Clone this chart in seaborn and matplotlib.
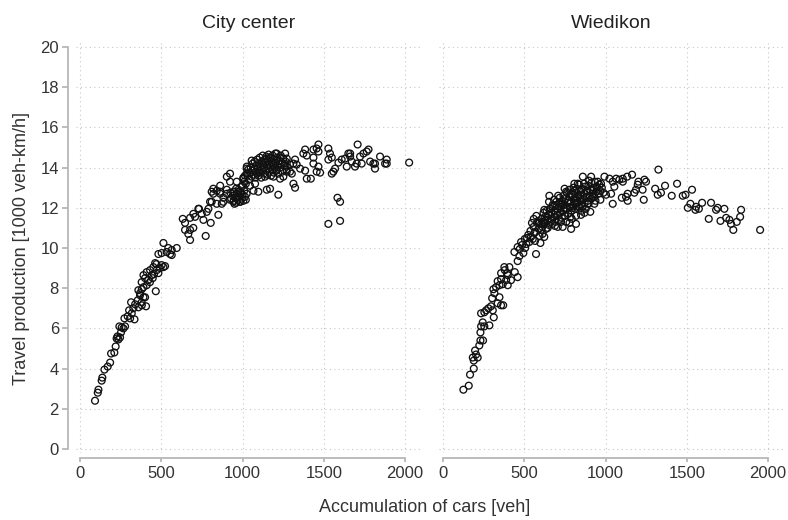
import matplotlib
matplotlib.use("Agg")
import matplotlib.pyplot as plt
import seaborn as sns
import pandas as pd

panels = ["City center", "Wiedikon"]
x_ticks = [0, 500, 1000, 1500, 2000]
y_ticks = [0, 2, 4, 6, 8, 10, 12, 14, 16, 18, 20]

city_points = [
    (92, 2.4), (109, 2.8), (113, 2.95), (133, 3.4), (137, 3.55), (150, 3.95), (170, 4.1),
    (185, 4.3), (191, 4.75), (211, 4.8), (219, 5.1), (225, 5.5), (230, 5.6), (236, 5.45),
    (242, 6.1), (246, 5.55), (252, 5.8), (256, 6.05), (267, 6.0), (273, 6.5), (277, 6.1),
    (293, 6.6), (302, 6.9), (308, 6.5), (314, 7.3), (318, 6.75), (328, 7.0), (335, 6.45),
    (339, 7.2), (355, 7.4), (359, 7.05), (369, 7.65), (380, 7.15), (390, 7.55), (359, 7.9),
    (380, 7.95), (406, 7.1), (466, 7.85), (369, 7.75), (400, 7.55), (379, 7.3),
    (379, 8.3), (400, 8.5), (420, 8.4), (390, 8.65), (410, 8.8), (431, 8.9), (441, 8.65),
    (451, 9.05), (462, 9.25), (472, 8.9), (482, 8.75), (492, 9.0), (502, 9.15), (513, 9.05),
    (523, 9.1), (447, 8.5), (410, 8.15), (390, 8.05), (430, 8.3), (455, 8.7), (470, 9.2),
    (482, 9.7), (502, 9.75), (513, 10.25), (533, 9.8), (543, 10.0), (554, 9.7), (564, 9.9),
    (595, 10.0), (564, 9.65),
    (632, 11.45), (646, 11.25), (677, 11.5), (708, 11.55), (697, 11.7), (732, 11.95),
    (749, 11.7), (759, 11.4), (780, 11.8), (790, 11.95), (804, 11.25), (851, 11.65),
    (646, 10.9), (677, 10.9), (697, 11.0), (666, 10.7), (677, 10.4), (773, 10.6),
    (810, 12.8), (862, 12.8), (903, 12.7), (810, 12.3), (872, 12.2), (728, 11.95),
    (800, 12.3), (820, 12.95), (841, 12.85), (862, 12.7), (882, 12.5), (820, 12.7),
    (841, 12.2), (882, 12.3), (923, 12.4), (862, 13.1), (903, 12.9), (944, 12.8),
    (964, 12.5), (985, 12.3), (944, 12.3), (923, 13.7), (903, 13.55), (923, 13.3),
    (964, 13.3), (995, 13.05), (975, 12.8), (1005, 13.45), (1026, 13.7), (1026, 14.05),
    (1056, 14.35), (1046, 13.1), (1067, 12.85), (1097, 12.8), (1077, 13.2),
    (940, 12.6), (945, 12.35), (950, 12.8), (955, 12.5), (960, 12.25), (965, 12.7),
    (970, 12.4), (975, 12.9), (980, 12.55), (985, 12.3), (990, 12.75), (995, 12.45),
    (1000, 12.65), (1005, 12.35), (1010, 12.85), (1015, 12.55), (1020, 12.4), (1025, 12.7),
    (950, 12.2), (960, 12.95), (930, 12.45), (925, 12.75),
    (1030, 13.6), (1035, 13.9), (1040, 13.4), (1045, 13.75), (1050, 14.0), (1055, 13.55),
    (1060, 13.85), (1062, 14.2), (1068, 13.65), (1070, 13.95), (1075, 14.3), (1078, 13.5),
    (1082, 13.8), (1085, 14.1), (1088, 13.7), (1090, 14.4), (1094, 13.95), (1097, 13.6),
    (1100, 14.2), (1103, 13.85), (1106, 14.5), (1108, 13.75), (1112, 14.05), (1115, 13.5),
    (1118, 14.3), (1120, 13.9), (1124, 14.6), (1126, 14.15), (1130, 13.7), (1132, 14.0),
    (1135, 14.4), (1138, 13.55), (1140, 14.25), (1143, 13.85), (1146, 14.55), (1150, 14.1),
    (1152, 13.65), (1155, 14.35), (1158, 13.95), (1160, 14.65), (1163, 14.2), (1166, 13.8),
    (1170, 14.45), (1172, 14.05), (1175, 13.6), (1178, 14.3), (1182, 13.9), (1185, 14.6),
    (1188, 14.15), (1192, 13.75), (1195, 14.4), (1198, 14.0), (1202, 14.7), (1205, 14.25),
    (1208, 13.85), (1212, 14.5), (1215, 14.1), (1220, 13.7), (1225, 14.35), (1230, 14.0),
    (1235, 14.6), (1240, 14.2), (1245, 13.8), (1250, 14.45), (1258, 14.1), (1265, 14.3),
    (1270, 13.9), (1010, 13.3), (1015, 13.6), (1020, 13.2), (1025, 13.95), (1000, 13.1),
    (1005, 13.5),
    (1149, 12.9), (1169, 12.95), (1220, 12.65), (1190, 13.55), (1210, 13.9), (1231, 13.45),
    (1251, 13.55), (1262, 14.2), (1272, 14.45), (1262, 14.7), (1210, 14.7), (1231, 14.5),
    (1169, 14.5), (1149, 14.45), (1190, 14.2), (1292, 14.15), (1272, 14.05), (1272, 13.8),
    (1303, 13.7), (1313, 13.2), (1323, 13.0), (1292, 13.8), (1313, 14.2), (1323, 14.4),
    (1333, 14.15), (1354, 13.95), (1385, 14.9), (1374, 14.7), (1395, 14.6), (1385, 13.85),
    (1395, 13.45), (1420, 13.45), (1436, 14.2), (1436, 14.5), (1436, 14.9), (1456, 14.95),
    (1467, 15.15), (1467, 14.8), (1467, 14.05), (1456, 13.8), (1477, 13.75), (1528, 14.95),
    (1538, 14.7), (1549, 14.5), (1528, 14.4), (1559, 13.8), (1549, 13.7), (1569, 13.95),
    (1528, 11.2), (1584, 12.5), (1600, 12.3), (1600, 11.35), (1590, 14.25), (1610, 14.4),
    (1631, 14.45), (1641, 14.05), (1651, 14.7), (1662, 14.7), (1662, 14.55), (1672, 14.3),
    (1702, 14.2), (1692, 14.05), (1708, 15.15), (1723, 14.55), (1733, 14.2), (1744, 14.7),
    (1764, 14.8), (1775, 14.9), (1785, 14.3), (1805, 14.2), (1815, 13.95), (1815, 14.2),
    (1846, 14.55), (1877, 14.2), (1887, 14.4), (1887, 14.2), (2025, 14.25),
]

wied_points = [
    (125, 2.95), (158, 3.15), (166, 3.7), (189, 4.0), (189, 4.4), (183, 4.55), (203, 4.7),
    (213, 4.55), (197, 4.9), (223, 5.15), (230, 5.4), (246, 5.4), (230, 5.8), (234, 6.1),
    (254, 6.1), (244, 6.3), (285, 6.15), (234, 6.75), (254, 6.8), (265, 6.9), (279, 7.0),
    (295, 7.1), (312, 6.55), (306, 6.9), (302, 7.5), (316, 7.75), (310, 7.95), (326, 8.05),
    (347, 8.15), (336, 8.35), (357, 8.75), (377, 9.05), (408, 9.05), (357, 8.45), (367, 8.2),
    (388, 8.4), (398, 8.15), (398, 8.65), (418, 8.4), (441, 8.8), (459, 8.55), (347, 7.55),
    (336, 7.25), (357, 7.15), (370, 7.15), (459, 9.35), (380, 8.9), (395, 8.75),
    (439, 9.8), (459, 10.05), (480, 10.3), (470, 9.6), (505, 10.0), (517, 10.5), (541, 10.55),
    (562, 10.75), (572, 9.7), (599, 10.25), (593, 10.6), (623, 10.55), (593, 11.25),
    (603, 10.9), (644, 11.0), (623, 11.9), (654, 12.6), (675, 12.15),
    (472, 9.95), (486, 10.15), (494, 9.75), (503, 10.45), (512, 10.2), (524, 10.65),
    (531, 10.3), (538, 10.85), (552, 10.45), (557, 11.05), (569, 10.8), (578, 11.25),
    (588, 10.95), (604, 11.2), (547, 11.25), (558, 11.45), (574, 11.6), (586, 11.35),
    (566, 10.35), (612, 10.7),
    (607, 11.45), (611, 11.05), (618, 11.75), (621, 11.3), (628, 11.55), (633, 10.95),
    (637, 11.85), (642, 11.4), (648, 11.65), (651, 11.15), (657, 11.95), (663, 11.45),
    (666, 11.75), (672, 11.2), (674, 12.05), (683, 11.55), (686, 11.85), (691, 11.3),
    (698, 12.15), (702, 11.65), (704, 11.95), (712, 11.4), (716, 12.25), (721, 11.75),
    (727, 12.05), (731, 11.5), (734, 12.35), (742, 11.85), (746, 12.15), (751, 11.6),
    (754, 12.45), (762, 11.95), (766, 12.25), (771, 11.7), (776, 12.55), (782, 12.05),
    (787, 12.3), (791, 11.85), (794, 12.65), (802, 12.1), (806, 12.45), (811, 11.95),
    (814, 12.75), (822, 12.25), (826, 12.5), (829, 12.05), (836, 12.85), (843, 12.35),
    (846, 12.6), (852, 12.15), (854, 12.95), (862, 12.45), (867, 12.7), (871, 12.25),
    (874, 13.05), (882, 12.55), (886, 12.8), (891, 12.35), (894, 13.1), (902, 12.6),
    (906, 12.9), (912, 12.45), (914, 13.25), (922, 12.7), (927, 13.0), (931, 12.55),
    (934, 13.3), (942, 12.8), (946, 13.05), (957, 12.7), (961, 13.15), (967, 12.85),
    (977, 13.0), (987, 12.75),
    (697, 12.3), (718, 12.5), (741, 12.6), (763, 12.75), (778, 12.9), (803, 13.0),
    (823, 12.95), (838, 13.15), (758, 11.3), (792, 11.45), (818, 11.6), (853, 11.85),
    (878, 11.95), (652, 12.3), (683, 12.4), (708, 12.6), (733, 12.2), (748, 12.95),
    (772, 12.35), (796, 12.0), (813, 12.2), (833, 12.6), (858, 12.05), (888, 12.85),
    (625, 11.2), (661, 11.95), (688, 11.1), (726, 11.3), (744, 11.95), (784, 11.55),
    (808, 12.85), (847, 12.45), (898, 13.35), (938, 12.35), (951, 12.95), (968, 12.4),
    (614, 11.3), (639, 11.55), (668, 11.35), (694, 11.75), (723, 12.15), (756, 12.0),
    (786, 12.7), (816, 12.35), (849, 12.9), (868, 13.2), (896, 12.2), (919, 12.9),
    (706, 11.05), (736, 11.05), (788, 10.95), (818, 11.2), (778, 11.25), (860, 13.55),
    (808, 13.2), (829, 13.2), (757, 12.8), (911, 13.55), (906, 11.8), (870, 11.75),
    (849, 11.65), (839, 12.05), (890, 12.2), (921, 12.55), (931, 12.2), (952, 13.3),
    (972, 13.2), (993, 13.55), (1003, 12.65), (1024, 13.45), (1044, 13.3), (1054, 13.05),
    (1044, 12.2), (1034, 12.7), (1065, 13.45), (1085, 13.4), (1106, 13.45), (1106, 13.3),
    (1133, 13.55), (1163, 13.65), (1100, 12.5), (1126, 12.55), (1136, 12.7), (1136, 12.35),
    (1177, 12.75), (1187, 12.9), (1198, 13.15), (1202, 13.3), (1228, 12.9), (1239, 13.4),
    (1249, 13.3), (1235, 12.4), (1325, 13.9), (1305, 12.95), (1321, 12.65), (1341, 12.75),
    (1366, 13.1), (1407, 12.6), (1440, 13.2), (1475, 12.6), (1492, 12.65), (1532, 12.9),
    (1506, 12.0), (1522, 12.2), (1553, 11.9), (1557, 12.05), (1574, 11.95), (1594, 12.25),
    (1635, 11.45), (1649, 12.25), (1680, 11.9), (1690, 12.0), (1707, 11.35), (1731, 11.95),
    (1742, 11.5), (1762, 11.4), (1772, 11.2), (1786, 10.9), (1807, 11.3), (1828, 11.55),
    (1834, 11.9), (1951, 10.9),
]

city_acc = [p[0] for p in city_points]
city_prod = [p[1] for p in city_points]
wied_acc = [p[0] for p in wied_points]
wied_prod = [p[1] for p in wied_points]

sns.set_theme(style="white")
plt.rcParams["font.family"] = ["Liberation Sans", "DejaVu Sans"]

fig, axes = plt.subplots(1, 2, figsize=(7.88, 5.2), dpi=100, sharex=True, sharey=True)
fig.subplots_adjust(left=76 / 788, right=784 / 788, top=1 - 40 / 520, bottom=1 - 453 / 520,
                    wspace=18 / 345)

data = [(city_acc, city_prod), (wied_acc, wied_prod)]
spine_col = "#b5b5b5"
text_col = "#333333"

for i, ax in enumerate(axes):
    xs, ys = data[i]
    df = pd.DataFrame({"acc": xs, "prod": ys})
    sns.scatterplot(data=df, x="acc", y="prod", ax=ax, s=24, marker="o",
                    facecolor="none", edgecolor="#111111", linewidth=0.95, zorder=3)
    ax.set_xlim(-25, 2098)
    ax.set_ylim(-0.2, 20.35)
    ax.set_xticks(x_ticks)
    ax.set_yticks(y_ticks)
    ax.grid(True, linestyle=(0, (1, 3)), color="#c8c8c8", linewidth=0.8)
    ax.set_axisbelow(True)
    ax.set_title(panels[i], fontsize=14, color="#222222", pad=9)
    ax.set_xlabel("")
    ax.set_ylabel("")
    for s in ["top", "right"]:
        ax.spines[s].set_visible(False)
    ax.spines["bottom"].set_position(("outward", 3.4))
    ax.spines["bottom"].set_bounds(0, 2000)
    ax.spines["bottom"].set_color(spine_col)
    ax.spines["left"].set_color(spine_col)
    ax.tick_params(axis="x", direction="out", length=3, color=spine_col, labelsize=12,
                   labelcolor=text_col, pad=3, bottom=True)
    if i == 0:
        ax.spines["left"].set_position(("outward", 5.8))
        ax.spines["left"].set_bounds(0, 20)
        ax.tick_params(axis="y", direction="out", length=4.5, color=spine_col, labelsize=12,
                       labelcolor=text_col, pad=2, left=True)
    else:
        ax.spines["left"].set_visible(False)
        ax.tick_params(axis="y", left=False, labelleft=False)

fig.text(425 / 788, 1 - 508 / 520, "Accumulation of cars [veh]", ha="center", va="center",
         fontsize=13, color=text_col)
fig.text(22 / 788, 1 - 248 / 520, "Travel production [1000 veh-km/h]", ha="center",
         va="center", rotation=90, fontsize=13, color=text_col)

fig.savefig("out.png", dpi=100)
